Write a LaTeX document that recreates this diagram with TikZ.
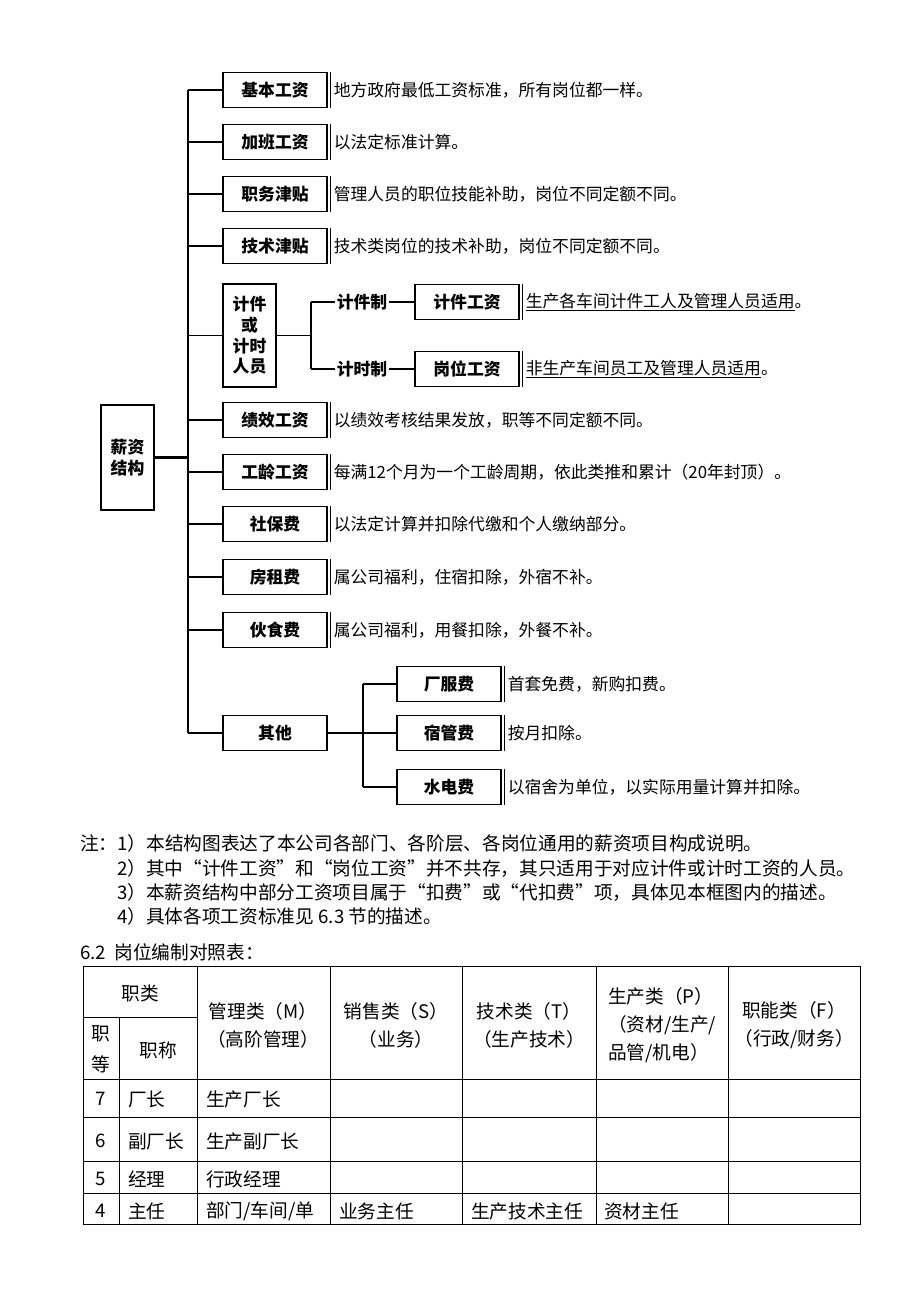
\documentclass[tikz,border=0pt]{standalone}
\usepackage{fontspec}
\setmainfont{Noto Sans CJK SC}
\usetikzlibrary{positioning}

\tikzset{
    item/.style={draw, line width=0.8pt, minimum width=78pt, minimum height=26.25pt,
        inner sep=1pt, font=\fontsize{12.6}{15.5}\selectfont\bfseries},
    tallbox/.style={item, minimum width=39.75pt, align=center},
    desc/.style={anchor=west, inner sep=0pt, font=\fontsize{12.6}{15}\selectfont},
    tag/.style={inner sep=1pt, font=\fontsize{12.6}{15}\selectfont\bfseries},
    notetext/.style={anchor=west, inner sep=0pt, font=\fontsize{14}{17}\selectfont},
    cell/.style={inner sep=0pt, font=\fontsize{14}{17}\selectfont},
    link/.style={line width=0.8pt},
    edge/.style={line width=0.5pt},
}

\begin{document}
\begin{tikzpicture}[x=0.75pt, y=-0.75pt]
    \useasboundingbox (0,0) rectangle (920,1302);

    % root and trunk
    \node[tallbox, minimum height=78.75pt] (root) at (127.5,457.5) {薪资\\结构};
    \coordinate (trunktop) at (188,90);
    \coordinate (trunkbot) at (188,733);
    \draw[link] (trunktop) -- (trunkbot);
    \draw[line width=1.6pt] (root.east) -- (root.east -| trunktop);

    % plain branches
    \foreach \n/\y/\lab/\txt in {
        jb/90/基本工资/地方政府最低工资标准，所有岗位都一样。,
        jiab/142/加班工资/以法定标准计算。,
        zw/194/职务津贴/管理人员的职位技能补助，岗位不同定额不同。,
        js/246/技术津贴/技术类岗位的技术补助，岗位不同定额不同。,
        jx/420/绩效工资/以绩效考核结果发放，职等不同定额不同。,
        gl/472/工龄工资/每满12个月为一个工龄周期，依此类推和累计（20年封顶）。,
        sb/524/社保费/以法定计算并扣除代缴和个人缴纳部分。,
        fz/577/房租费/属公司福利，住宿扣除，外宿不补。,
        hs/630/伙食费/属公司福利，用餐扣除，外餐不补。} {
        \node[item] (\n) at (275,\y) {\lab};
        \node[desc] (\n d) at ([xshift=4.5pt]\n.east) {\txt};
        \draw[edge] ([xshift=2pt]\n.north east) -- ([xshift=2pt]\n.south east);
        \draw[link] (\n.west -| trunktop) -- (\n.west);
    }

    % piece-rate / time-rate
    \node[tallbox, minimum height=77.25pt] (jj) at (249.5,335.5) {计件\\或\\计时\\人员};
    \draw[link] (jj.west -| trunktop) -- (jj.west);
    \coordinate (jjtop) at (311,302);
    \coordinate (jjbot) at (311,369);
    \draw[link] (jj.east) -- (jj.east -| jjtop);
    \draw[link] (jjtop) -- (jjbot);
    \node[tag] (jjz) at (362,302) {计件制};
    \node[tag] (jsz) at (362,369) {计时制};
    \node[item] (jjgz) at (467,302) {计件工资};
    \node[item] (gwgz) at (467,369) {岗位工资};
    \draw[link] (jjtop) -- (jjz.west);
    \draw[link] (jjbot) -- (jsz.west);
    \draw[link] (jjz.east) -- (jjgz.west);
    \draw[link] (jsz.east) -- (gwgz.west);
    \node[desc] (jjgzd) at ([xshift=4.5pt]jjgz.east) {\underline{生产各车间计件工人及管理人员适用}。};
    \node[desc] (gwgzd) at ([xshift=4.5pt]gwgz.east) {\underline{非生产车间员工及管理人员适用}。};
    \draw[edge] ([xshift=2pt]jjgz.north east) -- ([xshift=2pt]jjgz.south east);
    \draw[edge] ([xshift=2pt]gwgz.north east) -- ([xshift=2pt]gwgz.south east);

    % others
    \node[item] (qt) at (275,733) {其他};
    \draw[link] (trunkbot) -- (qt.west);
    \coordinate (qttop) at (363,684);
    \coordinate (qtbot) at (363,787);
    \draw[link] (qttop) -- (qtbot);
    \foreach \n/\y/\lab/\txt in {
        cf/684/厂服费/首套免费，新购扣费。,
        sg/733/宿管费/按月扣除。,
        sd/787/水电费/以宿舍为单位，以实际用量计算并扣除。} {
        \node[item] (\n) at (449,\y) {\lab};
        \node[desc] (\n d) at ([xshift=4.5pt]\n.east) {\txt};
        \draw[edge] ([xshift=2pt]\n.north east) -- ([xshift=2pt]\n.south east);
        \draw[link] (\n.west -| qttop) -- (\n.west);
    }
    \draw[link] (qt.east) -- (qt.east -| qttop);

    % notes
    \node[notetext] (n1) at (80,843) {注：1）本结构图表达了本公司各部门、各阶层、各岗位通用的薪资项目构成说明。};
    \node[notetext] (n2) at (117,868) {2）其中“计件工资”和“岗位工资”并不共存，其只适用于对应计件或计时工资的人员。};
    \node[notetext] (n3) at (117,892) {3）本薪资结构中部分工资项目属于“扣费”或“代扣费”项，具体见本框图内的描述。};
    \node[notetext] (n4) at (117,916) {4）具体各项工资标准见 6.3 节的描述。};
    \node[notetext] (n5) at (80,952) {6.2\ \ 岗位编制对照表：};

    % table
    \draw[line width=0.7pt] (83,966) rectangle (860,1224);
    \foreach \x in {197,330,462,596,728}
        \draw[line width=0.7pt] (\x,966) -- (\x,1224);
    \draw[line width=0.7pt] (119,1017) -- (119,1224);
    \draw[line width=0.7pt] (83,1017) -- (197,1017);
    \foreach \y in {1079,1117,1161,1193}
        \draw[line width=0.7pt] (83,\y) -- (860,\y);

    \node[cell] at (140,993) {职类};
    \node[cell] at (101,1034) {职};
    \node[cell] at (101,1064) {等};
    \node[cell] at (158,1050) {职称};
    \node[cell, align=center] at (263,1025) {管理类（M）\\[4pt]（高阶管理）};
    \node[cell, align=center] at (396,1025) {销售类（S）\\[4pt]（业务）};
    \node[cell, align=center] at (529,1025) {技术类（T）\\[4pt]（生产技术）};
    \node[cell, align=left] at (662,1025) {生产类（P）\\[4pt]（资材/生产/\\[4pt]品管/机电）};
    \node[cell, align=center] at (794,1025) {职能类（F）\\[4pt]（行政/财务）};

    \foreach \y/\a/\b/\c in {1099/7/厂长/生产厂长, 1141/6/副厂长/生产副厂长,
                             1179/5/经理/行政经理, 1211/4/主任/{部门/车间/单}} {
        \node[cell] at (101,\y) {\a};
        \node[cell, anchor=west] at (128,\y) {\b};
        \node[cell, anchor=west] at (206,\y) {\c};
    }
    \node[cell, anchor=west] at (339,1211) {业务主任};
    \node[cell, anchor=west] at (471,1211) {生产技术主任};
    \node[cell, anchor=west] at (604,1211) {资材主任};
\end{tikzpicture}
\end{document}
